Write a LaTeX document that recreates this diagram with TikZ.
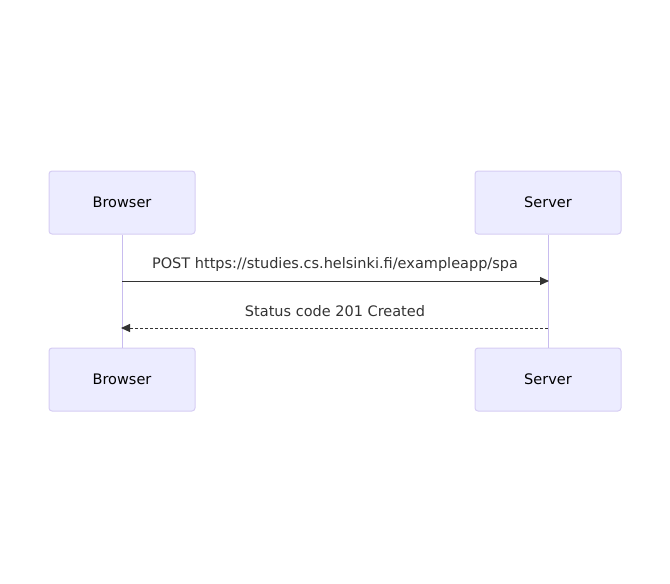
\documentclass[tikz,border=0pt]{standalone}
\usepackage{fontspec}
\setmainfont{DejaVu Sans}
\usetikzlibrary{arrows.meta}
\definecolor{actfill}{HTML}{ECECFF}
\definecolor{actdraw}{HTML}{D6CDF3}
\definecolor{lifecol}{HTML}{C8BCEF}
\definecolor{msgcol}{HTML}{333333}
\tikzset{
  actor/.style={draw=actdraw, fill=actfill, line width=1pt, rounded corners=3pt,
    minimum width=146pt, minimum height=63pt, inner sep=0pt,
    font=\fontsize{14.5}{17}\selectfont, text=black},
  lifeline/.style={draw=lifecol, line width=1pt},
  msg/.style={draw=msgcol, line width=1pt, -{Triangle[length=9pt,width=8pt]}},
  reply/.style={msg, dash pattern=on 3pt off 2pt},
  msglabel/.style={font=\fontsize{14.5}{17}\selectfont, text=msgcol, inner sep=0pt}
}
\begin{document}
\begin{tikzpicture}[x=1pt,y=-1pt]
\useasboundingbox (0,0) rectangle (670,584);
\node[actor] (bt) at (122,202.5) {Browser};
\node[actor] (st) at (548,202.5) {Server};
\node[actor] (bb) at (122,379.5) {Browser};
\node[actor] (sb) at (548,379.5) {Server};
\draw[lifeline] (bt.south) -- (bb.north);
\draw[lifeline] (st.south) -- (sb.north);
\coordinate (m1a) at (122,281);
\coordinate (m1b) at (549,281);
\coordinate (m2a) at (548,328);
\coordinate (m2b) at (121,328);
\draw[msg] (m1a) -- (m1b);
\draw[reply] (m2a) -- (m2b);
\node[msglabel] (l1) at (335,264) {POST https://studies.cs.helsinki.fi/exampleapp/spa};
\node[msglabel] (l2) at (335,311) {Status code 201 Created};
\end{tikzpicture}
\end{document}
